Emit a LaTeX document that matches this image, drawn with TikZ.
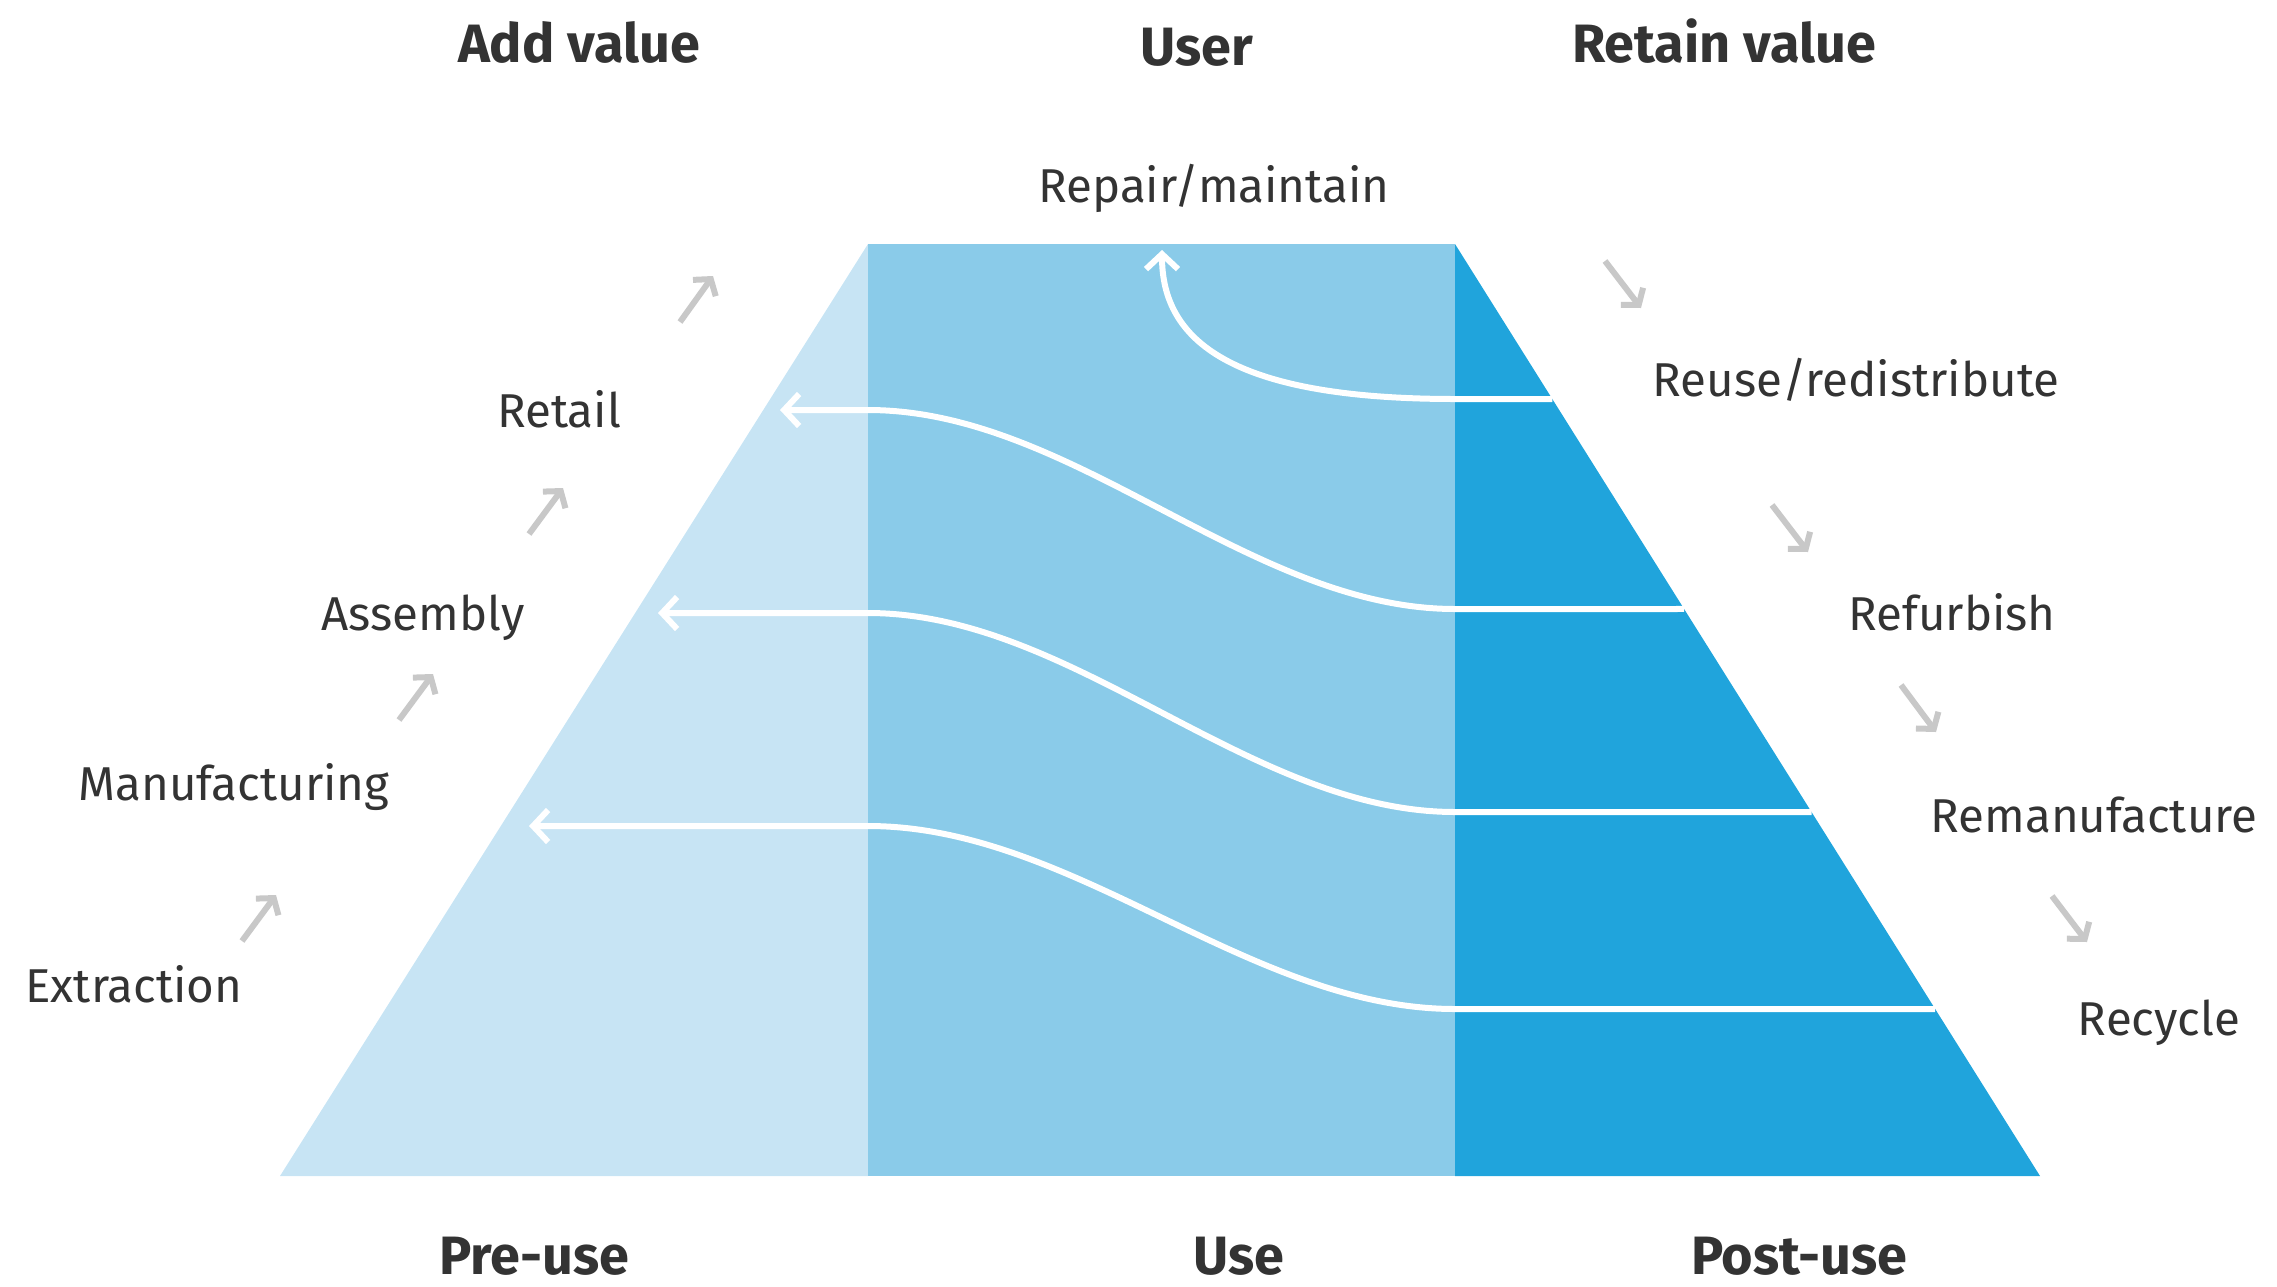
\documentclass[tikz,border=0pt]{standalone}
\usepackage{fontspec}
\setmainfont{Fira Sans}
\usetikzlibrary{arrows.meta,calc}

\definecolor{preuse}{HTML}{C7E4F4}
\definecolor{usecol}{HTML}{8ACBE9}
\definecolor{postuse}{HTML}{20A4DC}
\definecolor{txt}{HTML}{333333}
\definecolor{stepgrey}{HTML}{C8C8C8}

\tikzset{
  stage/.style={text=txt, font=\fontsize{47.5}{52}\selectfont, anchor=base, inner sep=0pt},
  head/.style={text=txt, font=\fontsize{54}{60}\selectfont\bfseries, anchor=base, inner sep=0pt},
  flowarrow/.style={white, line width=6pt, -{Straight Barb[length=15pt,width=32pt]}},
  stepup/.style={stepgrey, line width=6pt, -{Straight Barb[length=11pt,width=28pt]}},
}

\begin{document}
\begin{tikzpicture}[x=1pt,y=-1pt]
\useasboundingbox (0,0) rectangle (2277,1286);

% trapezoid corners and column boundaries
\coordinate (BL) at (280,1176);
\coordinate (TL) at (868,244);
\coordinate (TR) at (1455,244);
\coordinate (BR) at (2040,1176);

\fill[preuse]  (BL) -- (TL) -- (868,1176) -- cycle;
\fill[usecol]  (TL) rectangle (1455,1176);
\fill[postuse] (TR) -- (BR) -- (1455,1176) -- cycle;

% points on the right edge where each return flow starts
\coordinate (e1) at ($(TR)!{(399-244)/932}!(BR)$);
\coordinate (e2) at ($(TR)!{(609-244)/932}!(BR)$);
\coordinate (e3) at ($(TR)!{(812-244)/932}!(BR)$);
\coordinate (e4) at ($(TR)!{(1009-244)/932}!(BR)$);
% points on the use/post-use boundary
\coordinate (m1) at (1455,399);
\coordinate (m2) at (1455,609);
\coordinate (m3) at (1455,812);
\coordinate (m4) at (1455,1009);
% points on the pre-use/use boundary
\coordinate (l2) at (868,410);
\coordinate (l3) at (868,613);
\coordinate (l4) at (868,826);
% arrow tips
\coordinate (t1) at (1162,250);
\coordinate (t2) at (780,410);
\coordinate (t3) at (658,613);
\coordinate (t4) at (529,826);

% return flows
\draw[flowarrow] (e1) -- (m1) .. controls +(-225,0) and +(0,90) .. (t1);
\draw[flowarrow] (e2) -- (m2) .. controls +(-206,0) and +(206,0) .. (l2) -- (t2);
\draw[flowarrow] (e3) -- (m3) .. controls +(-206,0) and +(206,0) .. (l3) -- (t3);
\draw[flowarrow] (e4) -- (m4) .. controls +(-206,0) and +(206,0) .. (l4) -- (t4);

% headings
\node[head] (addvalue) at (579,62) {Add value};
\node[head] (user) at (1197,65) {User};
\node[head] (retain) at (1724,62) {Retain value};
\node[head] (preuselbl) at (534,1274) {Pre-use};
\node[head] (uselbl) at (1239,1274) {Use};
\node[head] (postuselbl) at (1799,1274) {Post-use};

% value-adding stages
\node[stage] (extraction) at (134,1002) {Extraction};
\node[stage] (manufacturing) at (234,800) {Manufacturing};
\node[stage] (assembly) at (423,630) {Assembly};
\node[stage] (retail) at (559,427) {Retail};

% value-retaining stages
\node[stage] (repair) at (1214,202) {Repair/maintain};
\node[stage] (reuse) at (1856,396) {Reuse/redistribute};
\node[stage] (refurbish) at (1952,630) {Refurbish};
\node[stage] (reman) at (2094,832) {Remanufacture};
\node[stage] (recycle) at (2159,1035) {Recycle};

% small step arrows
\coordinate (u1s) at (242,941);   \coordinate (u1e) at (276,895);
\coordinate (u2s) at (399,720);   \coordinate (u2e) at (433,674);
\coordinate (u3s) at (529,534);   \coordinate (u3e) at (563,488);
\coordinate (u4s) at (680,322);   \coordinate (u4e) at (713,276);
\coordinate (d1s) at (1605,261);  \coordinate (d1e) at (1641,308);
\coordinate (d2s) at (1772,505);  \coordinate (d2e) at (1808,552);
\coordinate (d3s) at (1901,685);  \coordinate (d3e) at (1936,732);
\coordinate (d4s) at (2052,896);  \coordinate (d4e) at (2087,942);
\foreach \n in {u1,u2,u3,u4,d1,d2,d3,d4}
  \draw[stepup] (\n s) -- (\n e);
\end{tikzpicture}
\end{document}
